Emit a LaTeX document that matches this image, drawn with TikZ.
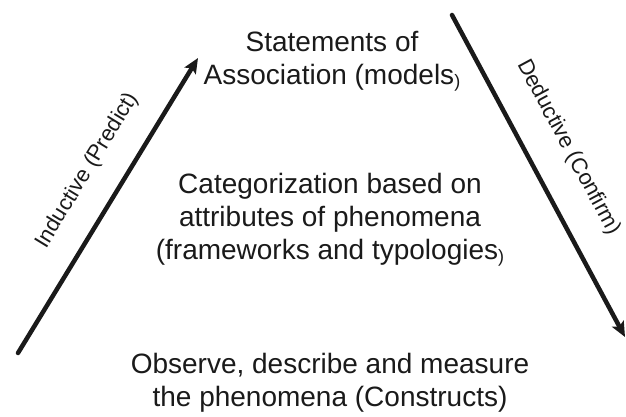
\documentclass[tikz,border=0pt]{standalone}
\usepackage{fontspec}
\setmainfont{Liberation Sans}
\usetikzlibrary{arrows.meta}

\definecolor{ink}{HTML}{1A1A1A}

\tikzset{
  level/.style={align=center, text=ink, inner sep=0pt,
    font=\fontsize{28}{33}\selectfont},
  flow/.style={draw=ink, line width=4.5pt, line cap=round,
    -{Stealth[length=15pt,width=13pt,inset=3pt]}},
  flowlabel/.style={sloped, text=ink, font=\fontsize{22}{24}\selectfont},
}
% small, slightly lowered closing bracket used in two of the level texts
\newcommand{\smallclose}{\raisebox{-3pt}{\fontsize{18}{18}\selectfont )}}

\begin{document}
\begin{tikzpicture}[x=1pt, y=-1pt]
  \path[use as bounding box, fill=white] (0,0) rectangle (626,417);

  % the three levels
  \node[level] (models) at (332,61) {Statements of\\Association (models\smallclose};
  \node[level] (frames) at (330,220) {Categorization based on\\attributes of phenomena\\(frameworks and typologies\smallclose};
  \node[level] (constructs) at (330,383) {Observe, describe and measure\\the phenomena (Constructs)};

  % end points of the two reasoning arrows
  \coordinate (indStart) at (18,353);
  \coordinate (indEnd) at (198,58);
  \coordinate (dedStart) at (452,15);
  \coordinate (dedEnd) at (625,337);

  \draw[flow] (indStart) -- node[flowlabel, pos=0.555, above=20pt] (indLabel) {Inductive (Predict)} (indEnd);
  \draw[flow] (dedStart) -- node[flowlabel, pos=0.47, above=24pt] (dedLabel) {Deductive (Confirm)} (dedEnd);
\end{tikzpicture}
\end{document}
